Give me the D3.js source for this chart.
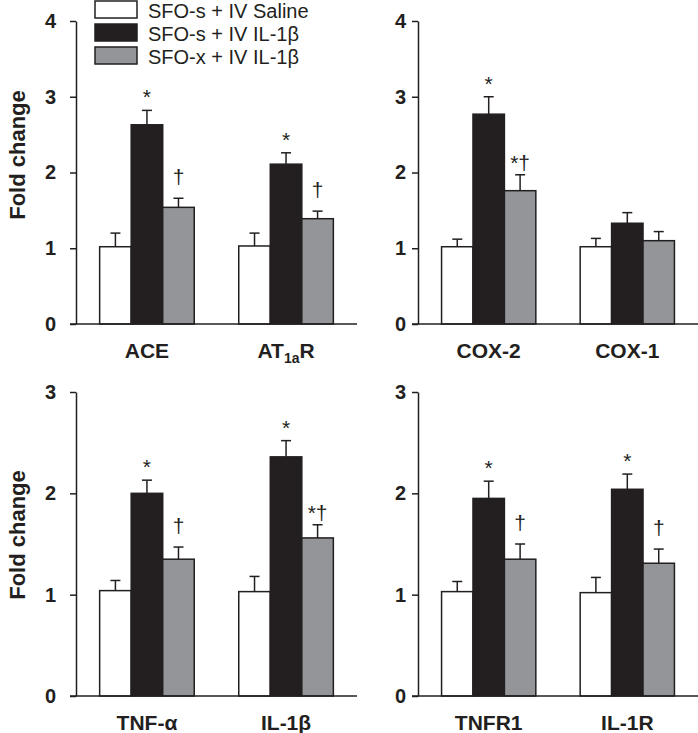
<!DOCTYPE html>
<html>
<head>
<meta charset="utf-8">
<style>
    body { margin: 0; background: #fff; }
    svg { display: block; font-family: "Liberation Sans", Arial, sans-serif; }
    .axis path, .axis line { stroke: #231f20; stroke-width: 1.5px; }
    .axis text { font-size: 20px; font-weight: bold; fill: #231f20; }
</style>
</head>
<body>
<svg width="698" height="733"></svg>
<script src="https://d3js.org/d3.v7.min.js"></script>
<script>

    // treatment groups (legend order)
    var groups = ["SFO-s + IV Saline", "SFO-s + IV IL-1β", "SFO-x + IV IL-1β"];
    var groupColors = ["#ffffff", "#231f20", "#939598"];

    // genes, in panel order
    var genes = ["ACE", "AT1aR", "COX-2", "COX-1", "TNF-α", "IL-1β", "TNFR1", "IL-1R"];

    // fold change (mean) and SEM
    var salineMean = [1.02, 1.03, 1.02, 1.02, 1.04, 1.03, 1.03, 1.02];
    var salineSem  = [0.18, 0.17, 0.10, 0.11, 0.10, 0.15, 0.10, 0.15];
    var il1Mean    = [2.63, 2.11, 2.77, 1.33, 2.00, 2.36, 1.95, 2.04];
    var il1Sem     = [0.19, 0.15, 0.23, 0.14, 0.13, 0.16, 0.17, 0.15];
    var sfoxMean   = [1.54, 1.39, 1.76, 1.10, 1.35, 1.56, 1.35, 1.31];
    var sfoxSem    = [0.12, 0.10, 0.21, 0.12, 0.12, 0.13, 0.15, 0.14];

    // significance marks
    var il1Marks  = ["*", "*", "*", "", "*", "*", "*", "*"];
    var sfoxMarks = ["†", "†", "*†", "", "†", "*†", "†", "†"];

    // panels: which genes, y max, ticks
    var panelGenes = [["ACE", "AT1aR"], ["COX-2", "COX-1"], ["TNF-α", "IL-1β"], ["TNFR1", "IL-1R"]];
    var panelYMax = [4, 4, 3, 3];
    var panelTicks = [[0, 1, 2, 3, 4], [0, 1, 2, 3, 4], [0, 1, 2, 3], [0, 1, 2, 3]];

    var means = [salineMean, il1Mean, sfoxMean],
        sems = [salineSem, il1Sem, sfoxSem],
        marks = [salineMean.map(function() { return ""; }), il1Marks, sfoxMarks];

    var svg = d3.select("svg");

    // panel frames (x of y-axis, right end of x-axis, plot top / bottom)
    var layout = [
        {x0: 76, x1: 357, top: 21, bottom: 324, pad: 14, title: 155},
        {x0: 418, x1: 698, top: 21, bottom: 324, pad: 6},
        {x0: 76, x1: 357, top: 392, bottom: 696, pad: 14, title: 535},
        {x0: 418, x1: 698, top: 392, bottom: 696, pad: 6}
    ];

    layout.forEach(function(L, p) {
        var g = svg.append("g");

        var y = d3.scaleLinear()
            .domain([0, panelYMax[p]])
            .range([L.bottom, L.top]);

        var x = d3.scaleBand()
            .domain(panelGenes[p])
            .range([L.x0, L.x1])
            .paddingInner(0.32)
            .paddingOuter(0.17);

        var xs = d3.scaleBand()
            .domain(d3.range(groups.length))
            .range([0, x.bandwidth()]);

        // bars
        panelGenes[p].forEach(function(gene) {
            var gi = genes.indexOf(gene);
            var gg = g.append("g").attr("transform", "translate(" + x(gene) + ",0)");

            groups.forEach(function(grp, k) {
                var m = means[k][gi], s = sems[k][gi],
                    cx = xs(k) + xs.bandwidth() / 2;

                // error bar (upper only)
                gg.append("line")
                    .attr("x1", cx).attr("x2", cx)
                    .attr("y1", y(m)).attr("y2", y(m + s))
                    .attr("stroke", "#231f20").attr("stroke-width", 1.5);
                gg.append("line")
                    .attr("x1", cx - 5).attr("x2", cx + 5)
                    .attr("y1", y(m + s)).attr("y2", y(m + s))
                    .attr("stroke", "#231f20").attr("stroke-width", 1.5);

                gg.append("rect")
                    .attr("x", xs(k))
                    .attr("y", y(m))
                    .attr("width", xs.bandwidth())
                    .attr("height", y(0) - y(m))
                    .attr("fill", groupColors[k])
                    .attr("stroke", "#231f20")
                    .attr("stroke-width", 1.5);

                var mk = marks[k][gi];
                if (mk) {
                    var off = mk === "*" ? 6 : (mk === "†" ? 14 : 5);
                    gg.append("text")
                        .attr("x", cx)
                        .attr("y", y(m + s) - off)
                        .attr("text-anchor", "middle")
                        .attr("font-size", 21)
                        .attr("fill", "#231f20")
                        .text(mk);
                }
            });

            // category label
            var lab = g.append("text")
                .attr("x", x(gene) + x.bandwidth() / 2)
                .attr("y", L.bottom + 34)
                .attr("text-anchor", "middle")
                .attr("font-size", 21)
                .attr("font-weight", "bold")
                .attr("fill", "#231f20");
            if (gene === "AT1aR") {
                lab.append("tspan").text("AT");
                lab.append("tspan").attr("font-size", 14).attr("dy", 5).text("1a");
                lab.append("tspan").attr("dy", -5).text("R");
            } else {
                lab.text(gene);
            }
        });

        // axes
        g.append("g")
            .attr("class", "axis")
            .attr("transform", "translate(" + L.x0 + ",0)")
            .call(d3.axisLeft(y).tickValues(panelTicks[p]).tickFormat(d3.format("d"))
                .tickSize(6).tickSizeOuter(0).tickPadding(L.pad));

        g.append("line")
            .attr("x1", L.x0 - 6).attr("x2", L.x1)
            .attr("y1", L.bottom).attr("y2", L.bottom)
            .attr("stroke", "#231f20").attr("stroke-width", 1.5);

        if (L.title) {
            g.append("text")
                .attr("transform", "translate(25," + L.title + ") rotate(-90)")
                .attr("text-anchor", "middle")
                .attr("font-size", 22)
                .attr("font-weight", "bold")
                .attr("fill", "#231f20")
                .text("Fold change");
        }
    });

    // legend
    var legend = svg.append("g").attr("transform", "translate(95,1)");
    groups.forEach(function(grp, k) {
        legend.append("rect")
            .attr("x", 0).attr("y", k * 23)
            .attr("width", 42).attr("height", 17)
            .attr("fill", groupColors[k])
            .attr("stroke", "#231f20").attr("stroke-width", 1.5);
        legend.append("text")
            .attr("x", 53).attr("y", k * 23 + 17)
            .attr("font-size", 20)
            .attr("fill", "#231f20")
            .text(grp);
    });

</script>
</body>
</html>
